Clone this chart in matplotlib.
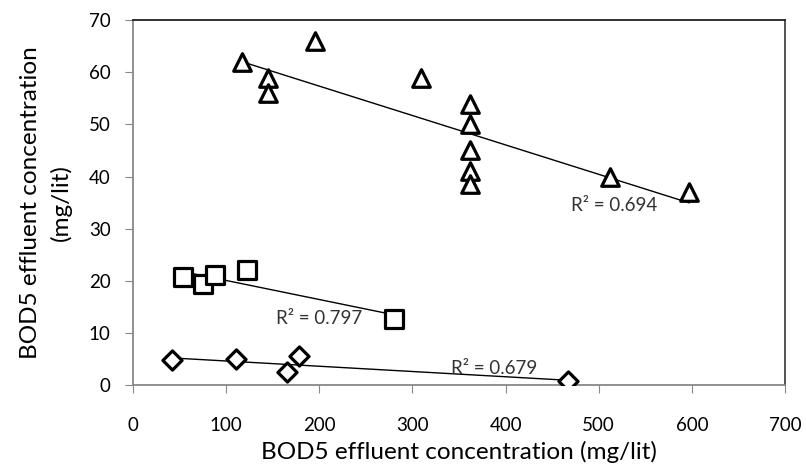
import numpy as np
import matplotlib
matplotlib.use("Agg")
import matplotlib.pyplot as plt

plt.rcParams['font.family'] = ['Lato', 'DejaVu Sans']

# triangles
tri_x = [117, 145, 145, 195, 309, 362, 362, 362, 362, 362, 512, 597]
tri_y = [62, 59, 56, 66, 59, 54, 50, 45, 41, 38.5, 40, 37]
# squares
sq_x = [54, 75, 88, 122, 280]
sq_y = [20.8, 19.3, 21.1, 22, 12.7]
# diamonds
dia_x = [42, 111, 165, 178, 467]
dia_y = [4.7, 4.9, 2.5, 5.5, 0.7]

r2_labels = ["R² = 0.694", "R² = 0.797", "R² = 0.679"]

fig = plt.figure(figsize=(8.06, 4.70), dpi=100)
ax = fig.add_axes([0.165, 0.181, 0.809, 0.776])

def trend(x, y):
    x = np.array(x, float)
    k, b = np.polyfit(x, y, 1)
    xs = np.array([x.min(), x.max()])
    ax.plot(xs, k * xs + b, color='black', lw=1, zorder=2)

trend(tri_x, tri_y)
trend(sq_x, sq_y)
trend(dia_x, dia_y)

mk = dict(facecolor='white', edgecolor='black', linewidths=2.3, zorder=3)
ax.scatter(tri_x, tri_y, marker='^', s=160, **mk)
ax.scatter(sq_x, sq_y, marker='s', s=180, **mk)
ax.scatter(dia_x, dia_y, marker='D', s=95, **mk)

txt = dict(fontsize=13.5, ha='left', va='center', color='#333333', zorder=4)
ax.text(470, 34.5, r2_labels[0], **txt)
ax.text(153, 12.8, r2_labels[1], **txt)
ax.text(341, 3.1, r2_labels[2], **txt)

ax.set_xlim(0, 700)
ax.set_ylim(0, 70)
ax.set_xticks(np.arange(0, 701, 100))
ax.set_yticks(np.arange(0, 71, 10))
ax.tick_params(axis='x', direction='out', length=6, color='#888888', pad=17, labelsize=13.5)
ax.tick_params(axis='y', direction='out', length=6, color='#888888', pad=10, labelsize=13.5)

ax.spines['left'].set_color('#888888')
ax.spines['bottom'].set_color('#888888')
ax.spines['top'].set_color('#222222')
ax.spines['right'].set_color('#444444')
for s in ax.spines.values():
    s.set_linewidth(1.3)

ax.set_xlabel("BOD5 effluent concentration (mg/lit)", fontsize=17.5, labelpad=5)
ax.set_ylabel("BOD5 effluent concentration\n(mg/lit)", fontsize=17.5, labelpad=12, linespacing=1.5)

fig.savefig("out.png", dpi=100)
